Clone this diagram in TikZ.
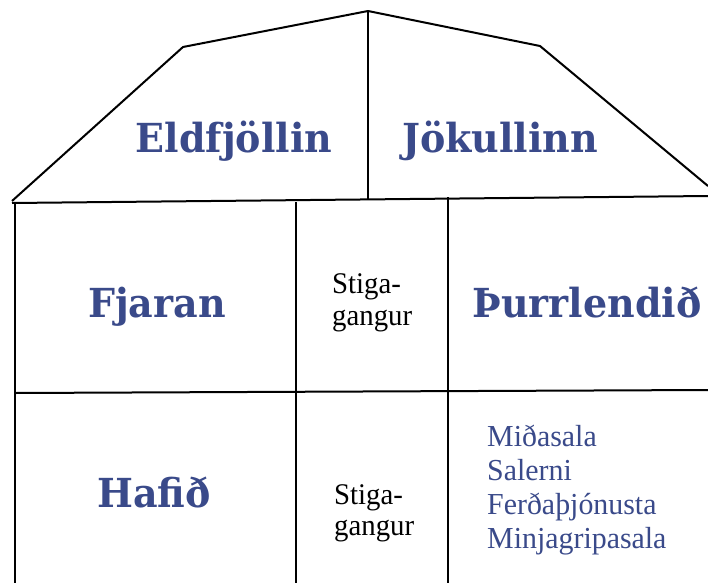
\documentclass[tikz,border=0pt]{standalone}
\usepackage{graphicx}
\usepackage{fontspec}
\setmainfont{Liberation Serif}
\newfontfamily\slabfont{DejaVu Serif}
\definecolor{labelblue}{RGB}{58,74,138}
\newcommand{\narrowtext}[2]{\scalebox{#1}[1]{#2}}
\tikzset{
  wall/.style={line width=2pt, black, line join=round},
  roomtitle/.style={anchor=base, text=labelblue, font=\slabfont\bfseries\fontsize{40}{42}\selectfont, inner sep=0pt},
  stairs/.style={anchor=base west, align=left, text=black, font=\fontsize{30}{32}\selectfont, inner sep=0pt},
  service/.style={anchor=base west, text=labelblue, font=\fontsize{30.5}{32}\selectfont, inner sep=0pt}
}
\begin{document}
\begin{tikzpicture}[x=1pt,y=-1pt]
\useasboundingbox (0,0) rectangle (708,583);
% roof
\coordinate (rl) at (12,201);
\coordinate (bl) at (183,47);
\coordinate (apex) at (368,11);
\coordinate (br) at (540,46);
\coordinate (rr) at (708,186);
\draw[wall] (rl) -- (bl) -- (apex) -- (br) -- (rr);
\draw[wall] (apex) -- (368,199);
% floors
\draw[wall] (12,203) -- (708,196);
\draw[wall] (15,393) -- (708,390);
\draw[wall] (15,203) -- (15,583);
\draw[wall] (296,202) -- (296,583);
\draw[wall] (448,197) -- (448,583);
% labels
\node[roomtitle] (eld) at (234,152) {\narrowtext{0.95}{Eldfjöllin}};
\node[roomtitle] (jok) at (500,152) {\narrowtext{0.95}{Jökullinn}};
\node[roomtitle] (fja) at (157,317) {\narrowtext{0.95}{Fjaran}};
\node[roomtitle] (thu) at (587,317) {\narrowtext{0.95}{Þurrlendið}};
\node[roomtitle] (haf) at (154,507) {\narrowtext{0.95}{Hafið}};
\node[stairs] (st1) at (332,293) {\narrowtext{0.96}{Stiga-}};
\node[stairs] (gg1) at (332,325) {\narrowtext{0.96}{gangur}};
\node[stairs] (st2) at (334,504) {\narrowtext{0.96}{Stiga-}};
\node[stairs] (gg2) at (334,535) {\narrowtext{0.96}{gangur}};
\node[service] (s1) at (487,446) {\narrowtext{0.98}{Miðasala}};
\node[service] (s2) at (487,480) {\narrowtext{0.98}{Salerni}};
\node[service] (s3) at (487,514) {\narrowtext{0.98}{Ferðaþjónusta}};
\node[service] (s4) at (487,548) {\narrowtext{0.98}{Minjagripasala}};
\end{tikzpicture}
\end{document}
